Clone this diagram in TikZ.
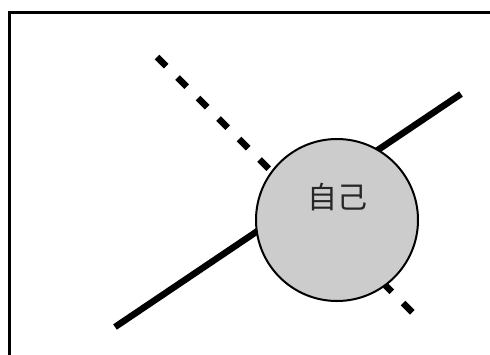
\documentclass[tikz,border=0pt]{standalone}
\usepackage{fontspec}
\newfontfamily\cjk{Noto Sans CJK SC}
\begin{document}
\begin{tikzpicture}[x=1pt,y=-1pt,
  frame/.style={draw=black,line width=3pt},
  solidline/.style={draw=black,line width=6.5pt},
  dashline/.style={draw=black,line width=6.5pt,dash pattern=on 13pt off 16pt},
  selfnode/.style={circle,draw=black,line width=2pt,fill=black!20,minimum size=162pt,inner sep=0pt}]
\useasboundingbox (0,0) rectangle (490,354);
\draw[frame] (9.5,12.5) rectangle (500,364);
\coordinate (d1) at (157,57);
\coordinate (d2) at (416,316);
\coordinate (s1) at (115,327);
\coordinate (s2) at (461,94);
\draw[dashline] (d1) -- (d2);
\draw[solidline] (s1) -- (s2);
\node[selfnode] (self) at (337,220) {};
\node[font=\cjk\fontsize{30}{34}\selectfont,text=black!85,inner sep=0pt] (lbl) at (337,197) {自己};
\end{tikzpicture}
\end{document}
